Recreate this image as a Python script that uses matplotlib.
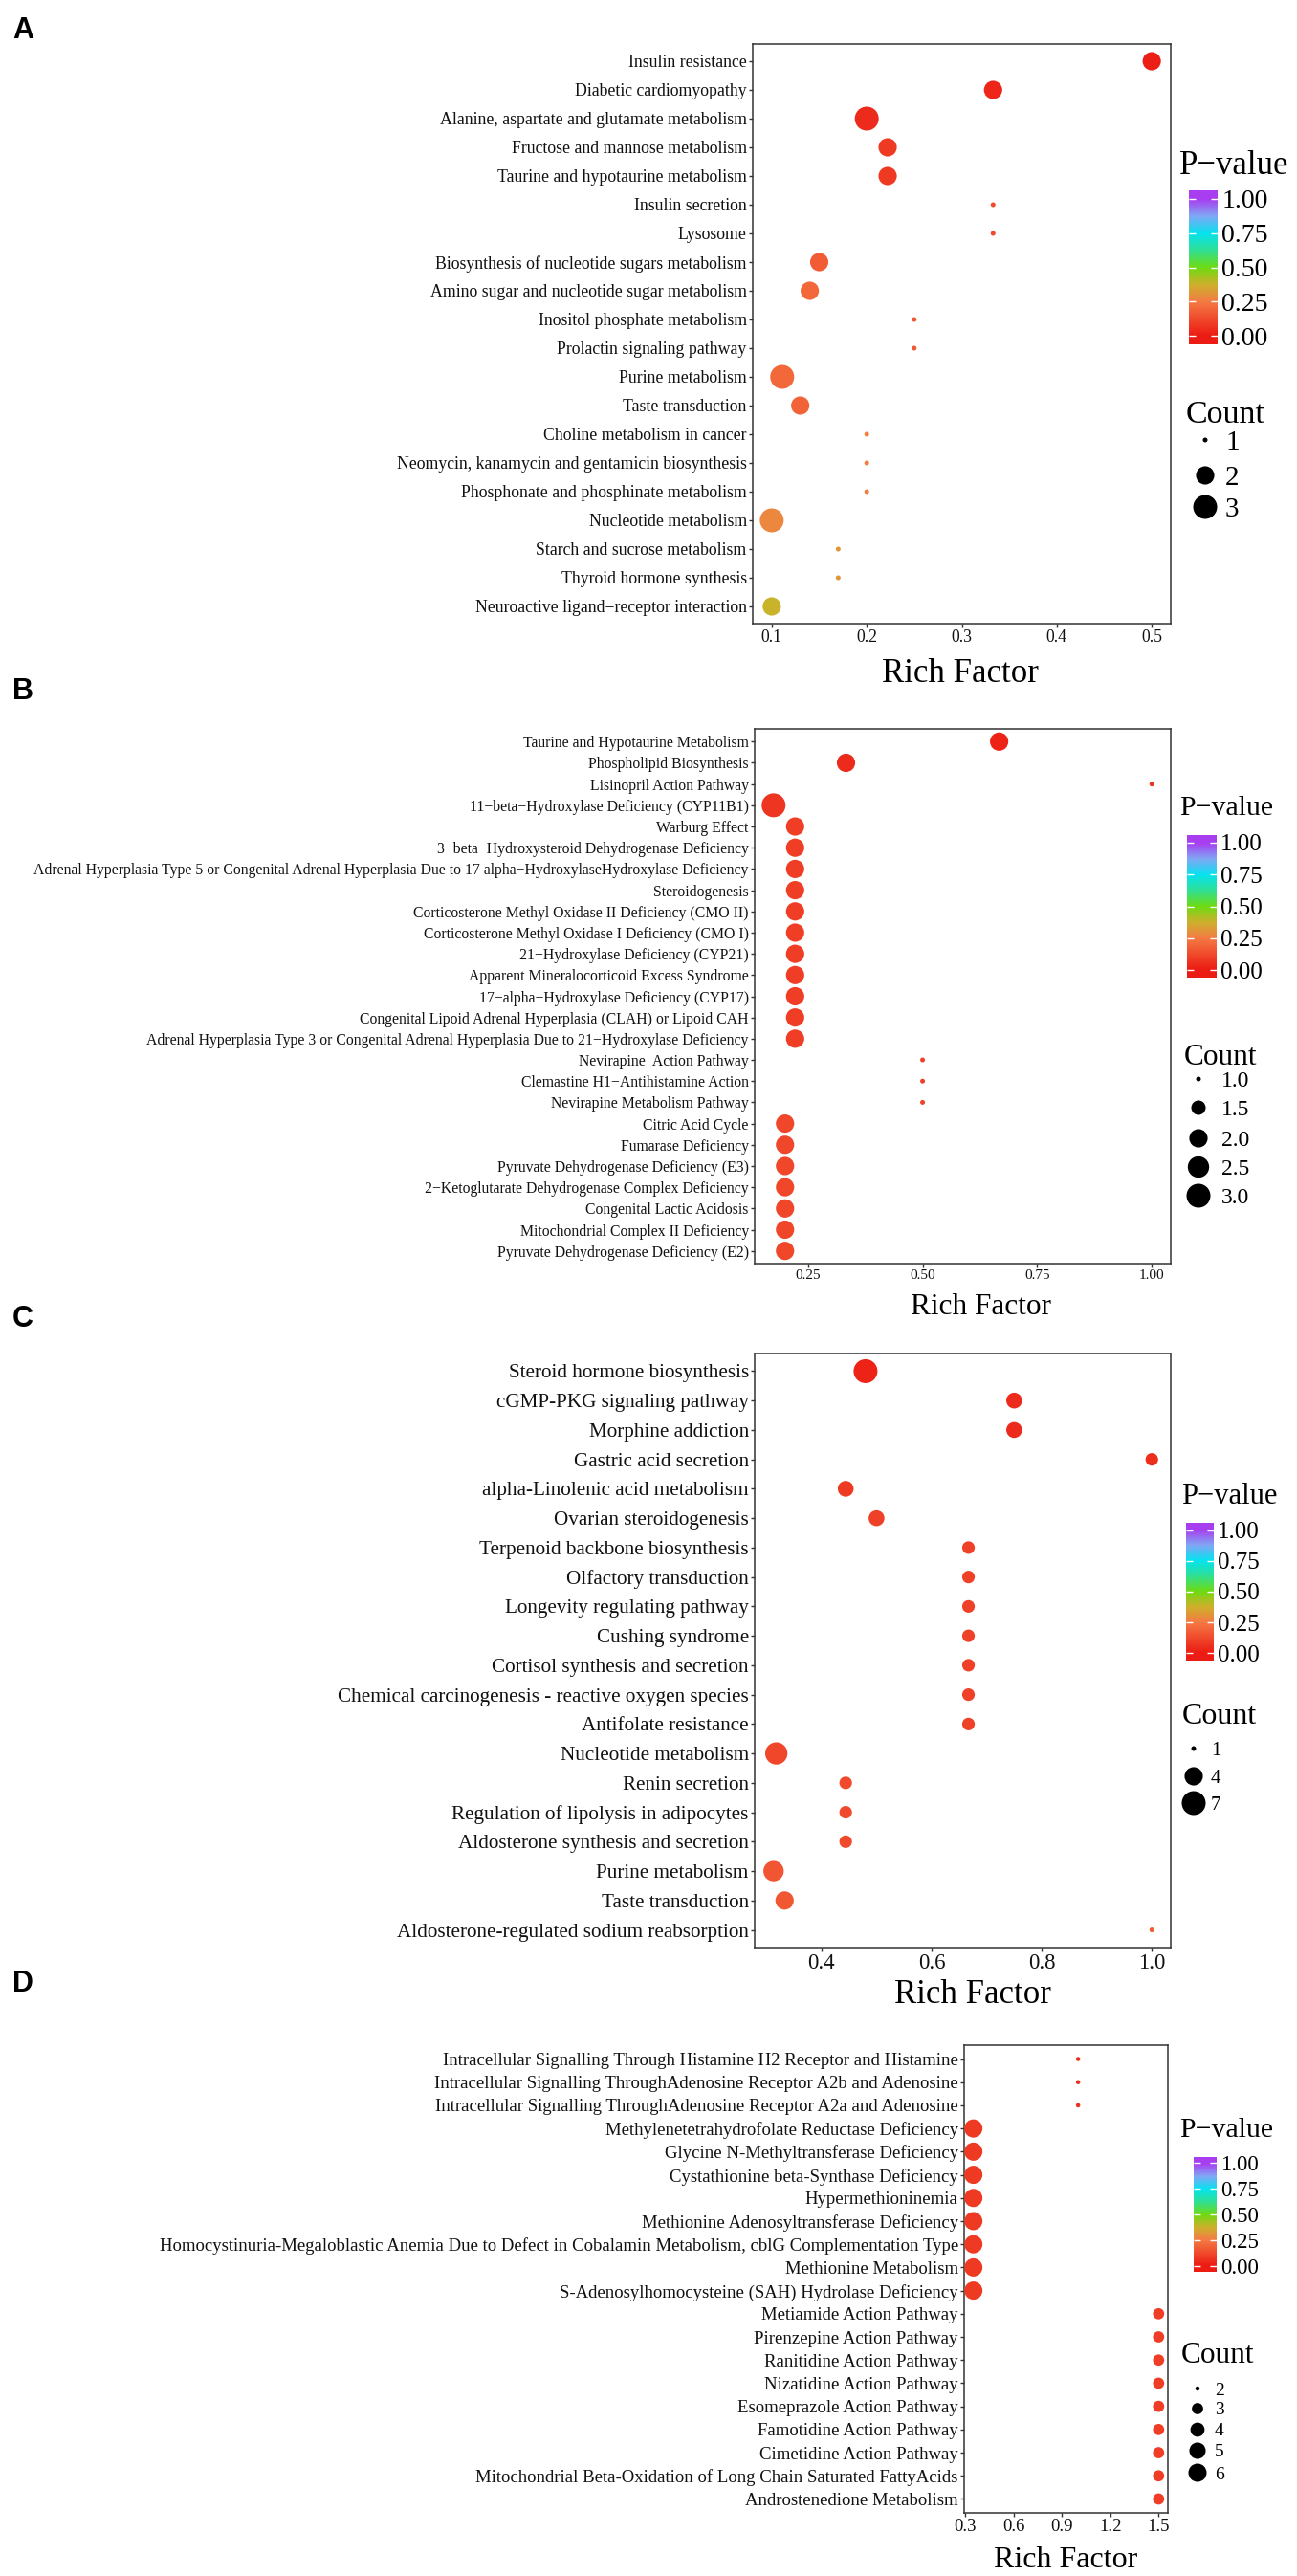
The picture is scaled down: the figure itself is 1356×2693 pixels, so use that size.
import numpy as np
import matplotlib
matplotlib.use("Agg")
import matplotlib.pyplot as plt
from matplotlib.colors import LinearSegmentedColormap

plt.rcParams["font.family"] = ["Liberation Serif", "DejaVu Serif"]

W, H, DPI = 1356, 2693, 100

# ---------------------------------------------------------------- data
A_terms = [
    "Insulin resistance", "Diabetic cardiomyopathy",
    "Alanine, aspartate and glutamate metabolism",
    "Fructose and mannose metabolism", "Taurine and hypotaurine metabolism",
    "Insulin secretion", "Lysosome",
    "Biosynthesis of nucleotide sugars metabolism",
    "Amino sugar and nucleotide sugar metabolism",
    "Inositol phosphate metabolism", "Prolactin signaling pathway",
    "Purine metabolism", "Taste transduction", "Choline metabolism in cancer",
    "Neomycin, kanamycin and gentamicin biosynthesis",
    "Phosphonate and phosphinate metabolism", "Nucleotide metabolism",
    "Starch and sucrose metabolism", "Thyroid hormone synthesis",
    "Neuroactive ligand\u2212receptor interaction",
]
A_rich = [0.5, 0.333, 0.2, 0.222, 0.222, 0.333, 0.333, 0.15, 0.14, 0.25,
          0.25, 0.111, 0.13, 0.2, 0.2, 0.2, 0.1, 0.17, 0.17, 0.1]
A_count = [2, 2, 3, 2, 2, 1, 1, 2, 2, 1, 1, 3, 2, 1, 1, 1, 3, 1, 1, 2]
A_p = [0.01, 0.03, 0.04, 0.08, 0.08, 0.12, 0.12, 0.17, 0.2, 0.16, 0.16,
       0.2, 0.19, 0.26, 0.26, 0.26, 0.28, 0.31, 0.31, 0.38]

B_terms = [
    "Taurine and Hypotaurine Metabolism", "Phospholipid Biosynthesis",
    "Lisinopril Action Pathway",
    "11\u2212beta\u2212Hydroxylase Deficiency (CYP11B1)", "Warburg Effect",
    "3\u2212beta\u2212Hydroxysteroid Dehydrogenase Deficiency",
    "Adrenal Hyperplasia Type 5 or Congenital Adrenal Hyperplasia Due to 17 "
    "alpha\u2212HydroxylaseHydroxylase Deficiency",
    "Steroidogenesis",
    "Corticosterone Methyl Oxidase II Deficiency (CMO II)",
    "Corticosterone Methyl Oxidase I Deficiency (CMO I)",
    "21\u2212Hydroxylase Deficiency (CYP21)",
    "Apparent Mineralocorticoid Excess Syndrome",
    "17\u2212alpha\u2212Hydroxylase Deficiency (CYP17)",
    "Congenital Lipoid Adrenal Hyperplasia (CLAH) or Lipoid CAH",
    "Adrenal Hyperplasia Type 3 or Congenital Adrenal Hyperplasia Due to "
    "21\u2212Hydroxylase Deficiency",
    "Nevirapine  Action Pathway", "Clemastine H1\u2212Antihistamine Action",
    "Nevirapine Metabolism Pathway", "Citric Acid Cycle", "Fumarase Deficiency",
    "Pyruvate Dehydrogenase Deficiency (E3)",
    "2\u2212Ketoglutarate Dehydrogenase Complex Deficiency",
    "Congenital Lactic Acidosis", "Mitochondrial Complex II Deficiency",
    "Pyruvate Dehydrogenase Deficiency (E2)",
]
B_rich = [0.667, 0.333, 1.0, 0.175, 0.222, 0.222, 0.222, 0.222, 0.222,
          0.222, 0.222, 0.222, 0.222, 0.222, 0.222, 0.5, 0.5, 0.5,
          0.2, 0.2, 0.2, 0.2, 0.2, 0.2, 0.2]
B_count = [2, 2, 1, 3, 2, 2, 2, 2, 2, 2, 2, 2, 2, 2, 2, 1, 1, 1,
           2, 2, 2, 2, 2, 2, 2]
B_p = [0.02, 0.04, 0.07, 0.07, 0.09, 0.09, 0.09, 0.09, 0.09, 0.09, 0.09,
       0.09, 0.09, 0.09, 0.09, 0.1, 0.1, 0.1, 0.11, 0.11, 0.11, 0.11, 0.11,
       0.11, 0.11]

C_terms = [
    "Steroid hormone biosynthesis", "cGMP-PKG signaling pathway",
    "Morphine addiction", "Gastric acid secretion",
    "alpha-Linolenic acid metabolism", "Ovarian steroidogenesis",
    "Terpenoid backbone biosynthesis", "Olfactory transduction",
    "Longevity regulating pathway", "Cushing syndrome",
    "Cortisol synthesis and secretion",
    "Chemical carcinogenesis - reactive oxygen species",
    "Antifolate resistance", "Nucleotide metabolism", "Renin secretion",
    "Regulation of lipolysis in adipocytes",
    "Aldosterone synthesis and secretion", "Purine metabolism",
    "Taste transduction", "Aldosterone-regulated sodium reabsorption",
]
C_rich = [0.48, 0.75, 0.75, 1.0, 0.444, 0.5, 0.667, 0.667, 0.667, 0.667,
          0.667, 0.667, 0.667, 0.318, 0.444, 0.444, 0.444, 0.313, 0.333, 1.0]
C_count = [7, 3, 3, 2, 3, 3, 2, 2, 2, 2, 2, 2, 2, 6, 2, 2, 2, 5, 4, 1]
C_p = [0.02, 0.04, 0.04, 0.05, 0.08, 0.1, 0.1, 0.1, 0.1, 0.1, 0.1, 0.1,
       0.1, 0.11, 0.12, 0.12, 0.12, 0.15, 0.16, 0.17]

D_terms = [
    "Intracellular Signalling Through Histamine H2 Receptor and Histamine",
    "Intracellular Signalling ThroughAdenosine Receptor A2b and Adenosine",
    "Intracellular Signalling ThroughAdenosine Receptor A2a and Adenosine",
    "Methylenetetrahydrofolate Reductase Deficiency",
    "Glycine N-Methyltransferase Deficiency",
    "Cystathionine beta-Synthase Deficiency", "Hypermethioninemia",
    "Methionine Adenosyltransferase Deficiency",
    "Homocystinuria-Megaloblastic Anemia Due to Defect in Cobalamin "
    "Metabolism, cblG Complementation Type",
    "Methionine Metabolism",
    "S-Adenosylhomocysteine (SAH) Hydrolase Deficiency",
    "Metiamide Action Pathway", "Pirenzepine Action Pathway",
    "Ranitidine Action Pathway", "Nizatidine Action Pathway",
    "Esomeprazole Action Pathway", "Famotidine Action Pathway",
    "Cimetidine Action Pathway",
    "Mitochondrial Beta-Oxidation of Long Chain Saturated FattyAcids",
    "Androstenedione Metabolism",
]
D_rich = [1.0, 1.0, 1.0, 0.35, 0.35, 0.35, 0.35, 0.35, 0.35, 0.35, 0.35,
          1.5, 1.5, 1.5, 1.5, 1.5, 1.5, 1.5, 1.5, 1.5]
D_count = [2, 2, 2, 6, 6, 6, 6, 6, 6, 6, 6, 3, 3, 3, 3, 3, 3, 3, 3, 3]
D_p = [0.05, 0.05, 0.05, 0.08, 0.08, 0.08, 0.08, 0.08, 0.08, 0.08, 0.08,
       0.09, 0.09, 0.09, 0.09, 0.09, 0.09, 0.09, 0.09, 0.09]

P_TICKS = [0.0, 0.25, 0.5, 0.75, 1.0]

# ggplot-like gradient for the P-value scale
CMAP = LinearSegmentedColormap.from_list("pval", list(zip(
    [0.0, 0.25, 0.375, 0.5, 0.625, 0.75, 0.875, 1.0],
    ["#EC1C14", "#F47B44", "#CDB12C", "#6EDB12", "#30E094", "#05E3F0",
     "#80A8F5", "#A83EF0"])))

fig = plt.figure(figsize=(W / DPI, H / DPI), dpi=DPI)


def px_rect(x0, y0, x1, y1):
    return [x0 / W, 1 - y1 / H, (x1 - x0) / W, (y1 - y0) / H]


def size_px(c, cmin, cmax, dmin, dmax):
    c = np.asarray(c, dtype=float)
    return dmin + np.sqrt((c - cmin) / (cmax - cmin)) * (dmax - dmin)


def dot_panel(box, terms, rich, count, pval, srng, xticks, xfmt,
              yfs, xfs, lab_fs, lab_x, lab_base):
    x0, y0, x1, y1 = box
    ax = fig.add_axes(px_rect(*box))
    n = len(terms)
    d = size_px(count, *srng)
    ax.scatter(rich, np.arange(n), s=(d * 72 / DPI) ** 2, c=pval, cmap=CMAP,
               vmin=0, vmax=1, linewidths=0, zorder=3)
    lo, hi = min(rich), max(rich)
    pad = 0.05 * (hi - lo)
    ax.set_xlim(lo - pad, hi + pad)
    ax.set_ylim(n - 0.4, -0.6)
    ax.set_yticks(np.arange(n))
    ax.set_yticklabels(terms, fontsize=yfs)
    ax.set_xticks(xticks)
    ax.set_xticklabels([xfmt.format(v) for v in xticks], fontsize=xfs)
    ax.tick_params(length=3, width=1, color="#333333", pad=1.5,
                   labelcolor="#111111")
    for sp in ax.spines.values():
        sp.set_color("#333333")
        sp.set_linewidth(1.1)
    ax.set_xlabel("Rich Factor", fontsize=lab_fs)
    ax.xaxis.set_label_coords((lab_x - x0) / (x1 - x0),
                              (y1 - lab_base) / (y1 - y0))
    ax.xaxis.label.set_va("baseline")
    return ax


def pbar(box, tick_fs):
    # bar runs a little past 0 and 1, as ggplot's colourbar does
    cax = fig.add_axes(px_rect(*box))
    grad = np.linspace(-0.06, 1.06, 256).reshape(-1, 1)
    cax.imshow(grad, cmap=CMAP, vmin=0, vmax=1, origin="lower",
               aspect="auto", extent=(0, 1, -0.06, 1.06))
    cax.set_xlim(0, 1)
    cax.set_ylim(-0.06, 1.06)
    cax.set_xticks([])
    cax.yaxis.tick_right()
    cax.set_yticks(P_TICKS)
    cax.set_yticklabels(["{:.2f}".format(v) for v in P_TICKS])
    cax.tick_params(axis="y", left=True, right=True, direction="in",
                    color="white", length=5, width=1, labelsize=tick_fs, pad=3)
    for sp in cax.spines.values():
        sp.set_visible(False)
    for lab in cax.get_yticklabels():
        lab.set_va("center_baseline")


# panels
dot_panel((787, 46, 1224, 652), A_terms, A_rich, A_count, A_p,
          (1, 3, 5, 25), [0.1, 0.2, 0.3, 0.4, 0.5], "{:.1f}",
          12.8, 12.7, 25, 1004, 713)
dot_panel((789, 762, 1224, 1321), B_terms, B_rich, B_count, B_p,
          (1, 3, 5, 25), [0.25, 0.5, 0.75, 1.0], "{:.2f}",
          11.3, 11, 22.5, 1025, 1374)
dot_panel((789, 1415, 1224, 2036), C_terms, C_rich, C_count, C_p,
          (1, 7, 5, 25), [0.4, 0.6, 0.8, 1.0], "{:.1f}",
          15.2, 16.4, 25, 1017, 2094)
dot_panel((1008, 2138, 1221, 2627), D_terms, D_rich, D_count, D_p,
          (2, 6, 4.5, 19), [0.3, 0.6, 0.9, 1.2, 1.5], "{:.1f}",
          13.5, 13.5, 23, 1114, 2684)

pbar((1243, 199, 1273, 360), 20)
pbar((1241, 873, 1272, 1022), 18)
pbar((1240, 1592, 1269, 1736), 18)
pbar((1248, 2255, 1272, 2375), 16.5)

# overlay in pixel coordinates for letters, legend titles and size keys
ov = fig.add_axes([0, 0, 1, 1])
ov.set_xlim(0, W)
ov.set_ylim(H, 0)
ov.axis("off")

for letter, base in zip("ABCD", [40, 731, 1387, 2082]):
    ov.text(13, base, letter, fontsize=22, fontweight="bold", va="baseline",
            family=["Liberation Sans", "DejaVu Sans"])

for x, base, fs in [(1233, 182, 25), (1233, 852, 21.5),
                    (1235, 1572, 22), (1233, 2234, 21.5)]:
    ov.text(x, base, "P\u2212value", fontsize=fs, va="baseline")

size_keys = [
    # title x, baseline, fs, breaks, labels, size range, dot x, label x, ys, fs
    (1240, 442, 24.5, [1, 2, 3], ["1", "2", "3"], (1, 3, 5, 25),
     1260, 1281, [460, 497, 530], 21),
    (1238, 1113, 22.5, [1.0, 1.5, 2.0, 2.5, 3.0],
     ["1.0", "1.5", "2.0", "2.5", "3.0"], (1, 3, 5, 25),
     1253, 1277, [1128, 1158, 1190, 1220, 1250], 17),
    (1236, 1802, 23, [1, 4, 7], ["1", "4", "7"], (1, 7, 5, 25),
     1248, 1266, [1828, 1857, 1885], 15),
    (1235, 2470, 22.5, [2, 3, 4, 5, 6], ["2", "3", "4", "5", "6"],
     (2, 6, 4.5, 19), 1252, 1270, [2497, 2518, 2540, 2562, 2585], 14),
]
for tx, tb, tfs, brk, blab, srng, dx, lx, ys, lfs in size_keys:
    ov.text(tx, tb, "Count", fontsize=tfs, va="baseline")
    d = size_px(brk, *srng)
    ov.scatter([dx] * len(brk), ys, s=(d * 72 / DPI) ** 2, c="black",
               linewidths=0)
    for y, s in zip(ys, blab):
        ov.text(lx, y, s, fontsize=lfs, va="center_baseline")

fig.savefig("out.png", dpi=DPI)
